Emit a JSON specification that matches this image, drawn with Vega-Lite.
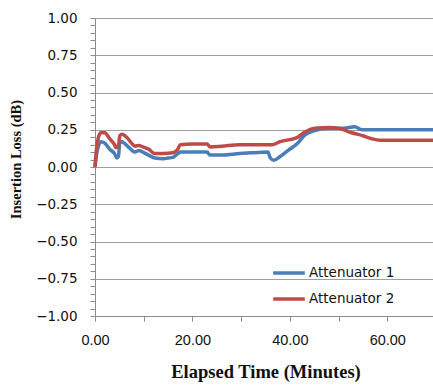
{
  "$schema": "https://vega.github.io/schema/vega-lite/v6.json",
  "width": 341,
  "height": 298,
  "autosize": {"type": "none"},
  "padding": {"left": 95, "top": 18, "right": 0, "bottom": 72},
  "background": "white",
  "config": {
    "view": {"stroke": null},
    "axis": {
      "labelFont": "DejaVu Sans",
      "labelFontSize": 13.5,
      "labelColor": "#111111",
      "titleFont": "Liberation Serif",
      "titleFontWeight": "bold",
      "titleColor": "#111111",
      "domainColor": "#8c8c8c",
      "tickColor": "#8c8c8c",
      "gridColor": "#a0a0a0",
      "tickSize": 5
    }
  },
  "data": {
    "values": [
      {"t": 0, "v": 0.0, "s": "Attenuator 1"},
      {"t": 0.3, "v": 0.08, "s": "Attenuator 1"},
      {"t": 0.7, "v": 0.14, "s": "Attenuator 1"},
      {"t": 1.2, "v": 0.17, "s": "Attenuator 1"},
      {"t": 2, "v": 0.16, "s": "Attenuator 1"},
      {"t": 3, "v": 0.12, "s": "Attenuator 1"},
      {"t": 4, "v": 0.09, "s": "Attenuator 1"},
      {"t": 4.5, "v": 0.06, "s": "Attenuator 1"},
      {"t": 4.8, "v": 0.07, "s": "Attenuator 1"},
      {"t": 5.1, "v": 0.16, "s": "Attenuator 1"},
      {"t": 5.5, "v": 0.17, "s": "Attenuator 1"},
      {"t": 6, "v": 0.16, "s": "Attenuator 1"},
      {"t": 7, "v": 0.13, "s": "Attenuator 1"},
      {"t": 8.2, "v": 0.10, "s": "Attenuator 1"},
      {"t": 9, "v": 0.11, "s": "Attenuator 1"},
      {"t": 9.8, "v": 0.10, "s": "Attenuator 1"},
      {"t": 11, "v": 0.08, "s": "Attenuator 1"},
      {"t": 12.3, "v": 0.06, "s": "Attenuator 1"},
      {"t": 14, "v": 0.055, "s": "Attenuator 1"},
      {"t": 15, "v": 0.06, "s": "Attenuator 1"},
      {"t": 16, "v": 0.065, "s": "Attenuator 1"},
      {"t": 17, "v": 0.09, "s": "Attenuator 1"},
      {"t": 17.5, "v": 0.10, "s": "Attenuator 1"},
      {"t": 20, "v": 0.10, "s": "Attenuator 1"},
      {"t": 23, "v": 0.10, "s": "Attenuator 1"},
      {"t": 23.6, "v": 0.08, "s": "Attenuator 1"},
      {"t": 26, "v": 0.08, "s": "Attenuator 1"},
      {"t": 29.7, "v": 0.09, "s": "Attenuator 1"},
      {"t": 32, "v": 0.095, "s": "Attenuator 1"},
      {"t": 35.5, "v": 0.10, "s": "Attenuator 1"},
      {"t": 36, "v": 0.06, "s": "Attenuator 1"},
      {"t": 36.7, "v": 0.045, "s": "Attenuator 1"},
      {"t": 38, "v": 0.07, "s": "Attenuator 1"},
      {"t": 39.6, "v": 0.11, "s": "Attenuator 1"},
      {"t": 41.6, "v": 0.16, "s": "Attenuator 1"},
      {"t": 43.1, "v": 0.215, "s": "Attenuator 1"},
      {"t": 45.1, "v": 0.245, "s": "Attenuator 1"},
      {"t": 48.2, "v": 0.26, "s": "Attenuator 1"},
      {"t": 51, "v": 0.26, "s": "Attenuator 1"},
      {"t": 53.3, "v": 0.27, "s": "Attenuator 1"},
      {"t": 54.8, "v": 0.25, "s": "Attenuator 1"},
      {"t": 59.5, "v": 0.25, "s": "Attenuator 1"},
      {"t": 65, "v": 0.25, "s": "Attenuator 1"},
      {"t": 70, "v": 0.25, "s": "Attenuator 1"},
      {"t": 0, "v": 0.0, "s": "Attenuator 2"},
      {"t": 0.3, "v": 0.12, "s": "Attenuator 2"},
      {"t": 0.7, "v": 0.2, "s": "Attenuator 2"},
      {"t": 1.2, "v": 0.23, "s": "Attenuator 2"},
      {"t": 2, "v": 0.23, "s": "Attenuator 2"},
      {"t": 3, "v": 0.19, "s": "Attenuator 2"},
      {"t": 4, "v": 0.15, "s": "Attenuator 2"},
      {"t": 4.3, "v": 0.13, "s": "Attenuator 2"},
      {"t": 4.8, "v": 0.14, "s": "Attenuator 2"},
      {"t": 5.1, "v": 0.21, "s": "Attenuator 2"},
      {"t": 5.6, "v": 0.22, "s": "Attenuator 2"},
      {"t": 6.5, "v": 0.2, "s": "Attenuator 2"},
      {"t": 7.5, "v": 0.16, "s": "Attenuator 2"},
      {"t": 8.2, "v": 0.14, "s": "Attenuator 2"},
      {"t": 9, "v": 0.145, "s": "Attenuator 2"},
      {"t": 9.8, "v": 0.135, "s": "Attenuator 2"},
      {"t": 11, "v": 0.12, "s": "Attenuator 2"},
      {"t": 12.3, "v": 0.09, "s": "Attenuator 2"},
      {"t": 14, "v": 0.09, "s": "Attenuator 2"},
      {"t": 16, "v": 0.095, "s": "Attenuator 2"},
      {"t": 17, "v": 0.12, "s": "Attenuator 2"},
      {"t": 17.5, "v": 0.15, "s": "Attenuator 2"},
      {"t": 20, "v": 0.155, "s": "Attenuator 2"},
      {"t": 23, "v": 0.155, "s": "Attenuator 2"},
      {"t": 23.6, "v": 0.135, "s": "Attenuator 2"},
      {"t": 26, "v": 0.14, "s": "Attenuator 2"},
      {"t": 29.7, "v": 0.15, "s": "Attenuator 2"},
      {"t": 33, "v": 0.15, "s": "Attenuator 2"},
      {"t": 36.3, "v": 0.15, "s": "Attenuator 2"},
      {"t": 38, "v": 0.17, "s": "Attenuator 2"},
      {"t": 41.6, "v": 0.2, "s": "Attenuator 2"},
      {"t": 43.1, "v": 0.235, "s": "Attenuator 2"},
      {"t": 45.1, "v": 0.26, "s": "Attenuator 2"},
      {"t": 48.2, "v": 0.265, "s": "Attenuator 2"},
      {"t": 50, "v": 0.26, "s": "Attenuator 2"},
      {"t": 52.7, "v": 0.23, "s": "Attenuator 2"},
      {"t": 55, "v": 0.21, "s": "Attenuator 2"},
      {"t": 56.8, "v": 0.19, "s": "Attenuator 2"},
      {"t": 58.5, "v": 0.18, "s": "Attenuator 2"},
      {"t": 62, "v": 0.18, "s": "Attenuator 2"},
      {"t": 70, "v": 0.18, "s": "Attenuator 2"}
    ]
  },
  "mark": {"type": "line", "strokeWidth": 3.5, "interpolate": "monotone"},
  "encoding": {
    "x": {
      "field": "t",
      "type": "quantitative",
      "scale": {"domain": [0, 70], "nice": false, "zero": false},
      "axis": {
        "title": "Elapsed Time (Minutes)",
        "titleFontSize": 18.5,
        "titlePadding": 16,
        "values": [0, 10, 20, 30, 40, 50, 60, 70],
        "labelExpr": "datum.value % 20 == 0 ? format(datum.value, '.2f') : ''",
        "labelFont": "Liberation Sans",
        "labelFontSize": 14.5,
        "labelPadding": 12,
        "labelOverlap": false,
        "labelFlush": false,
        "labelAngle": 0,
        "grid": false
      }
    },
    "y": {
      "field": "v",
      "type": "quantitative",
      "scale": {"domain": [-1, 1], "nice": false},
      "axis": {
        "title": "Insertion Loss (dB)",
        "titleFontSize": 14.5,
        "titlePadding": 12,
        "titleY": 141,
        "values": [-1, -0.95, -0.9, -0.85, -0.8, -0.75, -0.7, -0.65, -0.6, -0.55, -0.5, -0.45, -0.4, -0.35, -0.3, -0.25, -0.2, -0.15, -0.1, -0.05, 0, 0.05, 0.1, 0.15, 0.2, 0.25, 0.3, 0.35, 0.4, 0.45, 0.5, 0.55, 0.6, 0.65, 0.7, 0.75, 0.8, 0.85, 0.9, 0.95, 1],
        "labelExpr": "abs(datum.value * 4 - round(datum.value * 4)) < 0.001 ? format(datum.value, '.2f') : ''",
        "labelPadding": 13,
        "labelOverlap": false,
        "grid": true,
        "gridOpacity": {"condition": {"test": "abs(datum.value * 4 - round(datum.value * 4)) < 0.001", "value": 1}, "value": 0}
      }
    },
    "color": {
      "field": "s",
      "type": "nominal",
      "scale": {"domain": ["Attenuator 1", "Attenuator 2"], "range": ["#4A7EBB", "#BE4B48"]},
      "legend": {
        "title": null,
        "orient": "none",
        "legendX": 176,
        "legendY": 237,
        "padding": 0,
        "symbolType": "stroke",
        "symbolSize": 1000,
        "symbolStrokeWidth": 3.5,
        "labelFont": "DejaVu Sans",
        "labelFontSize": 13.5,
        "labelColor": "#111111",
        "labelOffset": 2,
        "rowPadding": 1
      }
    }
  }
}
